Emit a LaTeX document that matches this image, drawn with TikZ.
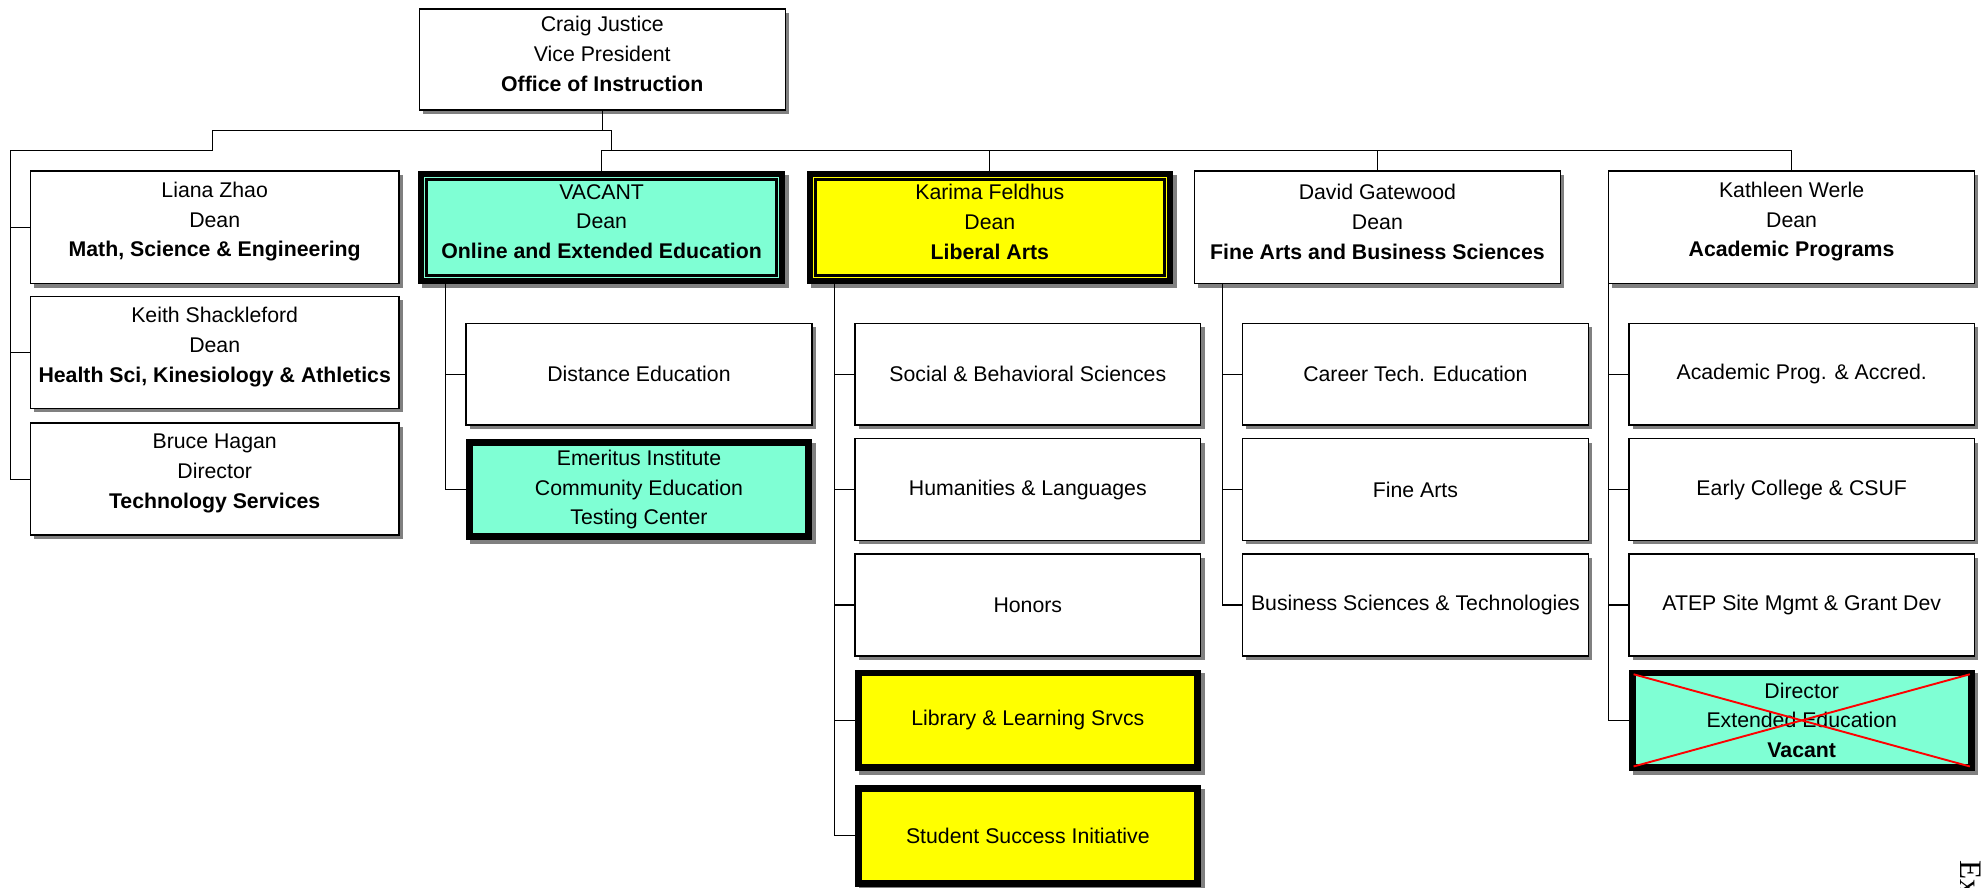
\documentclass[tikz,border=0pt]{standalone}
\usepackage{fontspec}
\setmainfont{Liberation Sans}
\newfontfamily\serifex{Liberation Serif}
\usetikzlibrary{calc}
\definecolor{aquac}{HTML}{7FFFD4}
\definecolor{yellowc}{HTML}{FFFF00}
\definecolor{shadowc}{HTML}{808080}
% #1 name, #2 style, #3 inset, #4 x1, #5 y1, #6 x2, #7 y2, #8 text dy, #9 text
\newcommand\orgbox[9]{%
  \fill[shadowc] (#4+3,#5+3) rectangle (#6+3,#7+3);
  \node[#2, minimum width={(#6-#4-#3)*1pt}, minimum height={(#7-#5-#3)*1pt}] (#1) at ({(#4+#6)/2},{(#5+#7)/2}) {};
  \node[txt] (#1-t) at ($(#1.center)+(0,#8)$) {#9};
}
\begin{document}
\begin{tikzpicture}[x=1pt,y=-1pt,
  thinbox/.style={draw=black, line width=1.1pt, fill=white, inner sep=0pt, outer sep=0pt},
  aquabox/.style={draw=black, line width=8pt, fill=aquac, inner sep=0pt, outer sep=0pt},
  yellowbox/.style={draw=black, line width=8pt, fill=yellowc, inner sep=0pt, outer sep=0pt},
  aquasub/.style={draw=black, line width=5.5pt, fill=aquac, inner sep=0pt, outer sep=0pt},
  yellowsub/.style={draw=black, line width=5.5pt, fill=yellowc, inner sep=0pt, outer sep=0pt},
  txt/.style={align=center, font=\fontsize{16.8}{23.5}\selectfont, inner sep=0pt},
  conn/.style={draw=black, line width=0.9pt},
]
\useasboundingbox (0,0) rectangle (1568,701);

% top
\orgbox{top}{thinbox}{0}{331}{7}{620}{87}{-4.5}{Craig Justice\\Vice President\\\textbf{Office of Instruction}}

% deans row
\orgbox{liana}{thinbox}{0}{24}{135}{315}{224}{-4.5}{Liana Zhao\\Dean\\\textbf{Math, Science \& Engineering}}
\orgbox{vacant}{aquabox}{8}{330}{135}{620}{224}{-4.5}{VACANT\\Dean\\\textbf{Online and Extended Education}}
\draw[aquac, line width=0.45pt] ([shift={(1.3,1.3)}]vacant.north west) rectangle ([shift={(-1.3,-1.3)}]vacant.south east);
\orgbox{karima}{yellowbox}{8}{637}{135}{926}{224}{-4.5}{Karima Feldhus\\Dean\\\textbf{Liberal Arts}}
\draw[yellowc, line width=0.45pt] ([shift={(1.3,1.3)}]karima.north west) rectangle ([shift={(-1.3,-1.3)}]karima.south east);
\orgbox{david}{thinbox}{0}{943}{135}{1232}{224}{-4.5}{David Gatewood\\Dean\\\textbf{Fine Arts and Business Sciences}}
\orgbox{kathleen}{thinbox}{0}{1270}{135}{1559}{224}{-4.5}{Kathleen Werle\\Dean\\\textbf{Academic Programs}}

% left column
\orgbox{keith}{thinbox}{0}{24}{234}{315}{322.5}{-4.4}{Keith Shackleford\\Dean\\\textbf{Health Sci, Kinesiology \& Athletics}}
\orgbox{bruce}{thinbox}{0}{24}{334}{315}{422.5}{-4.5}{Bruce Hagan\\Director\\\textbf{Technology Services}}

% Online column
\orgbox{dist}{thinbox}{0}{368}{255.3}{641}{335.6}{0}{Distance Education}
\orgbox{emer}{aquasub}{5.5}{368}{346.4}{641}{426.7}{0}{Emeritus Institute\\Community Education\\Testing Center}

% Liberal Arts column
\orgbox{soc}{thinbox}{0}{675}{255.3}{948}{335.6}{0}{Social \& Behavioral Sciences}
\orgbox{hum}{thinbox}{0}{675}{346.4}{948}{426.7}{0}{Humanities \& Languages}
\orgbox{hon}{thinbox}{0}{675}{437.5}{948}{517.8}{0}{Honors}
\orgbox{lib}{yellowsub}{5.5}{675}{528.6}{948}{608.9}{0}{Library \& Learning Srvcs}
\orgbox{ssi}{yellowsub}{5.5}{675}{619.7}{948}{700}{0}{Student Success Initiative}

% Fine Arts column
\orgbox{cte}{thinbox}{0}{981}{255.3}{1254}{335.6}{0}{Career Tech. Education}
\orgbox{fine}{thinbox}{0}{981}{346.4}{1254}{426.7}{0}{Fine Arts}
\orgbox{bst}{thinbox}{0}{981}{437.5}{1254}{517.8}{0}{Business Sciences \& Technologies}

% Academic Programs column
\orgbox{acad}{thinbox}{0}{1286}{255.3}{1559}{335.6}{0}{Academic Prog. \& Accred.}
\orgbox{early}{thinbox}{0}{1286}{346.4}{1559}{426.7}{0}{Early College \& CSUF}
\orgbox{atep}{thinbox}{0}{1286}{437.5}{1559}{517.8}{0}{ATEP Site Mgmt \& Grant Dev}
\orgbox{dir}{aquasub}{5.5}{1286}{528.6}{1559}{608.9}{0}{Director\\Extended Education\\\textbf{Vacant}}
\draw[red, line width=1.5pt] ([shift={(1,1)}]dir.north west) -- ([shift={(-1,-1)}]dir.south east);
\draw[red, line width=1.5pt] ([shift={(1,-1)}]dir.south west) -- ([shift={(-1,1)}]dir.north east);

% connectors
\coordinate (ja) at (168,103);
\coordinate (jb) at (482.5,103);
\coordinate (bus) at (482.5,118.5);
\coordinate (lb) at (8,118.5);
\draw[conn] (top.south) -- (top.south |- ja);
\draw[conn] (ja) -- (jb) -- (bus);
\draw[conn] (ja) |- (lb) |- (bruce.west);
\draw[conn] (lb |- liana.west) -- (liana.west);
\draw[conn] (lb |- keith.west) -- (keith.west);
\draw[conn] (vacant.north) -- (vacant.north |- bus) -- (kathleen.north |- bus) -- (kathleen.north);
\draw[conn] (karima.north) -- (karima.north |- bus);
\draw[conn] (david.north) -- (david.north |- bus);

\coordinate (va) at (352,224);
\draw[conn] (va) |- (emer.west);
\draw[conn] (va |- dist.west) -- (dist.west);

\coordinate (vb) at (659,224);
\draw[conn] (vb) |- (ssi.west);
\draw[conn] (vb |- soc.west) -- (soc.west);
\draw[conn] (vb |- hum.west) -- (hum.west);
\draw[conn] (vb |- hon.west) -- (hon.west);
\draw[conn] (vb |- lib.west) -- (lib.west);

\coordinate (vc) at (965,224);
\draw[conn] (vc) |- (bst.west);
\draw[conn] (vc |- cte.west) -- (cte.west);
\draw[conn] (vc |- fine.west) -- (fine.west);

\coordinate (vd) at (1270,224);
\draw[conn] (vd) |- (dir.west);
\draw[conn] (vd |- acad.west) -- (acad.west);
\draw[conn] (vd |- early.west) -- (early.west);
\draw[conn] (vd |- atep.west) -- (atep.west);

% rotated text cut by the page edge, as in the reference
\node[rotate=-90, anchor=base west, inner sep=0pt, font=\serifex\fontsize{24.7}{28}\selectfont] (ex) at (1547.5,679) {Ex};
\end{tikzpicture}
\end{document}
